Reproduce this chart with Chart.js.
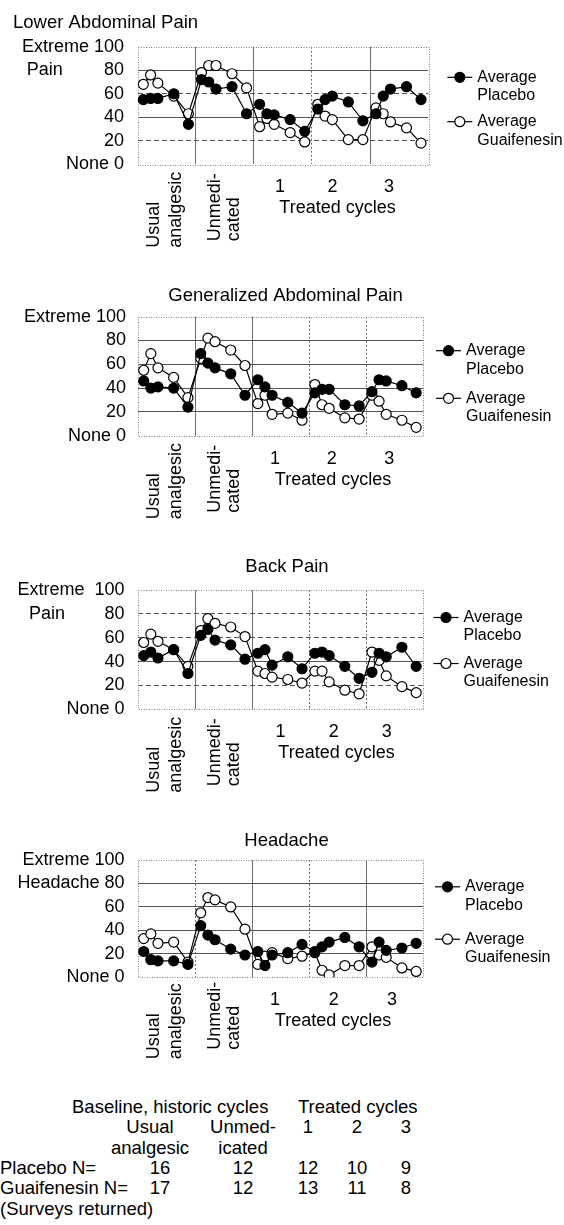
<!DOCTYPE html>
<html>
<head>
<meta charset="utf-8">
<script src="https://cdn.jsdelivr.net/npm/chart.js@4.4.1/dist/chart.umd.min.js"></script>
<style>
  html, body { margin: 0; padding: 0; background: #fff; }
  body { width: 564px; height: 1225px; position: relative; overflow: hidden;
         font-family: "Liberation Sans", Arial, sans-serif; color: #000; }
  canvas { position: absolute; left: 0; }
  .txt { position: absolute; font-size: 18.5px; line-height: 1; white-space: pre; }
</style>
</head>
<body>
<canvas id="c1" width="564" height="262" style="top:0px"></canvas>
<canvas id="c2" width="564" height="262" style="top:268px"></canvas>
<canvas id="c3" width="564" height="262" style="top:540px"></canvas>
<canvas id="c4" width="564" height="270" style="top:812px"></canvas>
<div id="table"></div>
<script>
// each cycle block is 8 units wide on the x axis, five surveys per block
const blockEdges = [0, 8, 16, 24, 32, 40];
const surveyDays = [0.8, 1.8, 2.8, 5, 7];
const yTicks = [0, 20, 40, 60, 80, 100];

const lowerPlacebo = [55, 56, 56, 60, 34, 72, 70, 64, 66, 43, 51, 43, 42, 38, 28, 47, 55, 58, 53, 37, 43, 58, 64, 66, 55];
const lowerGuaif = [68, 76, 69, 58, 43, 78, 84, 84, 77, 65, 32, 39, 34, 27, 19, 51, 41, 38, 21, 21, 48, 43, 36, 31, 18];
const generalPlacebo = [46, 40, 41, 40, 24, 69, 61, 57, 52, 34, 47, 41, 34, 28, 19, 36, 39, 39, 26, 25, 37, 47, 46, 42, 36];
const generalGuaif = [55, 69, 57, 49, 32, 65, 82, 79, 72, 59, 27, 34, 18, 19, 13, 43, 26, 23, 15, 14, 34, 29, 18, 13, 7];
const backPlacebo = [45, 48, 43, 50, 30, 62, 67, 58, 54, 42, 47, 50, 37, 44, 34, 47, 48, 45, 36, 26, 31, 47, 44, 52, 36];
const backGuaif = [56, 63, 57, 50, 36, 66, 76, 72, 69, 61, 32, 30, 27, 25, 22, 32, 32, 23, 16, 13, 48, 41, 28, 19, 14];
const headPlacebo = [22, 15, 14, 14, 11, 44, 36, 32, 24, 19, 22, 10, 19, 21, 28, 22, 26, 30, 34, 26, 13, 30, 23, 25, 29];
const headGuaif = [33, 37, 29, 30, 13, 55, 68, 66, 60, 41, 11, 18, 21, 16, 18, 21, 6, 2, 10, 10, 26, 19, 17, 8, 5];

const lowerYLabels = ["None 0", "20", "40", "60", "80", "Extreme 100"];
const generalYLabels = ["None 0", "20", "40", "60", "80", "Extreme 100"];
const backYLabels = ["None 0", "20", "40", "60", "80", "Extreme  100"];
const headYLabels = ["None 0", "20", "40", "60", "Headache 80", "Extreme 100"];

const seriesNames = [["Average", "Placebo"], ["Average", "Guaifenesin"]];
const cycleNumbers = ["1", "2", "3"];
const baselineLabels = [["Usual", "analgesic"], ["Unmedi-", "cated"]];

const tableHeads = ["Usual", "Unmed-", "1", "2", "3"];
const tableSubHeads = ["analgesic", "icated"];
const nPlacebo = [16, 12, 12, 10, 9];
const nGuaif = [17, 12, 13, 11, 8];

const FONT = "'Liberation Sans', Arial, sans-serif";

function toPoints(values) {
  const pts = [];
  values.forEach((v, i) => {
    const block = Math.floor(i / surveyDays.length);
    pts.push({ x: blockEdges[block] + surveyDays[i % surveyDays.length], y: v });
  });
  return pts;
}

function decorPlugin(cfg) {
  return {
    id: "decor",
    beforeDatasetsDraw(chart) {
      const { ctx, chartArea: a } = chart;
      ctx.save();
      ctx.strokeStyle = "#808080";
      ctx.lineWidth = 1;
      ctx.setLineDash([1, 1.5]);
      ctx.strokeRect(Math.round(a.left) + 0.5, Math.round(a.top) + 0.5,
        Math.round(a.right - a.left), Math.round(a.bottom - a.top));
      ctx.restore();
    },
    afterDraw(chart) {
      const { ctx, chartArea: a } = chart;
      const yScale = chart.scales.y;
      ctx.save();
      ctx.fillStyle = "#000";
      ctx.textBaseline = "middle";

      // title
      ctx.font = "18.5px " + FONT;
      ctx.textAlign = cfg.titleAlign;
      ctx.fillText(cfg.title, cfg.titleX, cfg.titleY);

      ctx.font = "18px " + FONT;
      // extra word on the left of the y axis
      if (cfg.sideWord) {
        ctx.textAlign = "left";
        ctx.fillText(cfg.sideWord, cfg.sideWordX, yScale.getPixelForValue(80));
      }

      // treated cycle numbers and caption
      ctx.textAlign = "center";
      cycleNumbers.forEach((n, i) => ctx.fillText(n, cfg.numberX[i], a.bottom + 23));
      ctx.fillText("Treated cycles", cfg.captionX, a.bottom + 44);

      // rotated baseline labels
      ctx.textBaseline = "alphabetic";
      ctx.textAlign = "left";
      baselineLabels.forEach((lines, g) => {
        const w = Math.max(...lines.map((l) => ctx.measureText(l).width));
        const startY = a.bottom + cfg.rotTop[g] + w;
        lines.forEach((l, k) => {
          ctx.save();
          ctx.translate(cfg.rotX[g][k], startY);
          ctx.rotate(-Math.PI / 2);
          ctx.fillText(l, 0, 0);
          ctx.restore();
        });
      });

      // legend
      ctx.font = "16px " + FONT;
      ctx.textBaseline = "middle";
      seriesNames.forEach((lines, s) => {
        const y = a.top + cfg.legendRows[s];
        const lx = cfg.legendX;
        ctx.strokeStyle = "#000";
        ctx.lineWidth = 1.2;
        ctx.beginPath();
        ctx.moveTo(lx, y);
        ctx.lineTo(lx + 25, y);
        ctx.stroke();
        ctx.beginPath();
        ctx.arc(lx + 12.5, y, 5, 0, Math.PI * 2);
        ctx.fillStyle = s === 0 ? "#000" : "#fff";
        ctx.fill();
        ctx.stroke();
        ctx.fillStyle = "#000";
        lines.forEach((l, k) => ctx.fillText(l, lx + 30, y + k * 18.4));
      });
      ctx.restore();
    },
  };
}

function makeChart(id, cfg) {
  const canvas = document.getElementById(id);
  const a = cfg.area;
  const common = {
    borderColor: "#000",
    borderWidth: 1.2,
    pointRadius: 5,
    pointHoverRadius: 5,
    pointBorderColor: "#000",
    pointBorderWidth: 1.2,
    tension: 0,
    fill: false,
  };
  return new Chart(canvas, {
    type: "line",
    data: {
      datasets: [
        Object.assign({ label: "Average Placebo", data: toPoints(cfg.placebo),
          backgroundColor: "#000", pointBackgroundColor: "#000" }, common),
        Object.assign({ label: "Average Guaifenesin", data: toPoints(cfg.guaif),
          backgroundColor: "#fff", pointBackgroundColor: "#fff" }, common),
      ],
    },
    options: {
      responsive: false,
      animation: false,
      events: [],
      layout: { padding: { left: 0, top: a.top, right: 564 - a.right, bottom: canvas.height - a.bottom } },
      plugins: { legend: { display: false }, tooltip: { enabled: false }, title: { display: false } },
      scales: {
        x: {
          type: "linear",
          min: 0,
          max: 40,
          ticks: { display: false },
          grid: {
            drawTicks: false,
            lineWidth: 1,
            color: (c) => (c.tick && (c.tick.value === 0 || c.tick.value === 40) ? "rgba(0,0,0,0)" : "#6e6e6e"),
          },
          border: { display: false, dash: (c) => (c.tick && cfg.dashedX.includes(c.tick.value) ? [2, 2] : []) },
          afterBuildTicks: (s) => { s.ticks = blockEdges.map((v) => ({ value: v })); },
          afterFit: (s) => { s.height = 0; },
        },
        y: {
          min: 0,
          max: 100,
          ticks: {
            stepSize: 20,
            autoSkip: false,
            padding: cfg.tickPad,
            color: "#000",
            font: { family: FONT, size: 18 },
            callback: (v) => cfg.yLabels[yTicks.indexOf(v)],
          },
          grid: {
            drawTicks: false,
            lineWidth: 1,
            color: (c) => (c.tick && (c.tick.value === 0 || c.tick.value === 100) ? "rgba(0,0,0,0)" : "#555"),
          },
          border: { display: false, dash: (c) => (c.tick && cfg.dashedY.includes(c.tick.value) ? [5, 3] : []) },
          afterBuildTicks: (s) => { s.ticks = yTicks.map((v) => ({ value: v })); },
          afterFit: (s) => { s.width = a.left; },
        },
      },
    },
    plugins: [decorPlugin(cfg)],
  });
}

const rotX = [[158.5, 180.5], [220, 238.5]];

makeChart("c1", {
  placebo: lowerPlacebo, guaif: lowerGuaif, yLabels: lowerYLabels,
  area: { left: 137.5, right: 428.3, top: 46.7, bottom: 164.3 },
  tickPad: 13.5, title: "Lower Abdominal Pain", titleAlign: "left", titleX: 13, titleY: 22.7,
  sideWord: "Pain", sideWordX: 26.7,
  numberX: [280, 332.5, 389], captionX: 337.5, rotTop: [7.4, 9], rotX: rotX,
  legendX: 447.3, legendRows: [30.6, 75],
  dashedX: [24], dashedY: [60, 20],
});

makeChart("c2", {
  placebo: generalPlacebo, guaif: generalGuaif, yLabels: generalYLabels,
  area: { left: 138, right: 423.3, top: 48.7, bottom: 167.7 },
  tickPad: 12, title: "Generalized Abdominal Pain", titleAlign: "center", titleX: 285.5, titleY: 28,
  sideWord: null,
  numberX: [275, 331.7, 389.3], captionX: 333, rotTop: [7.4, 9], rotX: rotX,
  legendX: 436, legendRows: [34, 81.6],
  dashedX: [24, 32], dashedY: [],
});

makeChart("c3", {
  placebo: backPlacebo, guaif: backGuaif, yLabels: backYLabels,
  area: { left: 138, right: 423.3, top: 50, bottom: 169.3 },
  tickPad: 13.5, title: "Back Pain", titleAlign: "center", titleX: 287, titleY: 27.3,
  sideWord: "Pain", sideWordX: 29,
  numberX: [280.5, 333.8, 386.7], captionX: 336.5, rotTop: [7.4, 9], rotX: rotX,
  legendX: 433.5, legendRows: [27.5, 73.5],
  dashedX: [24, 32], dashedY: [80, 60, 20],
});

makeChart("c4", {
  placebo: headPlacebo, guaif: headGuaif, yLabels: headYLabels,
  area: { left: 138, right: 423.3, top: 48, bottom: 165.3 },
  tickPad: 13.5, title: "Headache", titleAlign: "center", titleX: 286.5, titleY: 28.7,
  sideWord: null,
  numberX: [275, 333.8, 392], captionX: 333, rotTop: [6, 4.4], rotX: rotX,
  legendX: 435, legendRows: [26.8, 79.2],
  dashedX: [8, 24], dashedY: [],
});

// survey counts below the charts
const table = document.getElementById("table");
function addText(text, x, y, align) {
  const d = document.createElement("div");
  d.className = "txt";
  d.textContent = text;
  d.style.left = x + "px";
  d.style.top = y + "px";
  d.style.transform = align === "center" ? "translate(-50%, -50%)" : "translateY(-50%)";
  table.appendChild(d);
}

const headX = [150, 243, 308, 357, 406];
const valueX = [160, 243, 308, 357, 406];
const rowY = [1107, 1127.3, 1147.6, 1167.9, 1188.2, 1208.5];

addText("Baseline, historic cycles", 72, rowY[0], "left");
addText("Treated cycles", 298, rowY[0], "left");
tableHeads.forEach((h, i) => addText(h, headX[i], rowY[1], "center"));
tableSubHeads.forEach((h, i) => addText(h, headX[i], rowY[2], "center"));
addText("Placebo N=", 0, rowY[3], "left");
nPlacebo.forEach((n, i) => addText(String(n), valueX[i], rowY[3], "center"));
addText("Guaifenesin N=", 0, rowY[4], "left");
nGuaif.forEach((n, i) => addText(String(n), valueX[i], rowY[4], "center"));
addText("(Surveys returned)", 0, rowY[5], "left");
</script>
</body>
</html>
